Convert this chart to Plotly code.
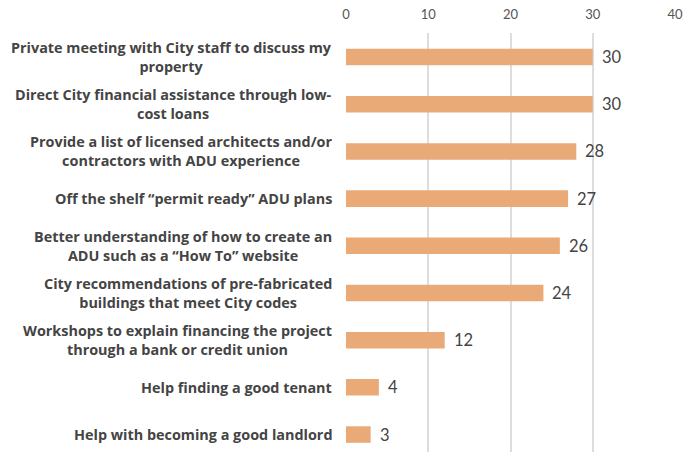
import plotly.graph_objects as go

# Survey responses: types of support homeowners would find helpful for building an ADU
categories = [
    "Private meeting with City staff to discuss my<br>property",
    "Direct City financial assistance through low-<br>cost loans",
    "Provide a list of licensed architects and/or<br>contractors with ADU experience",
    "Off the shelf \u201cpermit ready\u201d ADU plans",
    "Better understanding of how to create an<br>ADU such as a \u201cHow To\u201d website",
    "City recommendations of pre-fabricated<br>buildings that meet City codes",
    "Workshops to explain financing the project<br>through a bank or credit union",
    "Help finding a good tenant",
    "Help with becoming a good landlord",
]
responses = [30, 30, 28, 27, 26, 24, 12, 4, 3]
tick_values = [0, 10, 20, 30, 40]

BAR_COLOR = "#E9AA78"
TEXT_COLOR = "#444444"
FONT = "Lato"
LABEL_FONT = "Open Sans"

positions = list(range(len(categories)))

fig = go.Figure(
    go.Bar(
        x=responses,
        y=positions,
        orientation="h",
        marker=dict(color=BAR_COLOR, line=dict(width=0)),
        width=0.35,
        hoverinfo="skip",
    )
)

# Category labels: right-anchored blocks with centred lines
for pos, label in zip(positions, categories):
    fig.add_annotation(
        x=0, xref="paper", y=pos, yref="y",
        text=label, showarrow=False,
        xanchor="right", yanchor="middle", align="center",
        xshift=-12,
        font=dict(family=LABEL_FONT, size=14.4, color=TEXT_COLOR, weight="bold"),
    )

# Value labels just past the end of each bar
for pos, val in zip(positions, responses):
    fig.add_annotation(
        x=val, xref="x", y=pos, yref="y",
        text=str(val), showarrow=False,
        xanchor="left", yanchor="middle",
        xshift=7,
        font=dict(family=FONT, size=16.5, color=TEXT_COLOR),
    )

fig.update_layout(
    width=687, height=452,
    margin=dict(l=346, r=12, t=33, b=0),
    paper_bgcolor="white", plot_bgcolor="white",
    showlegend=False,
    font=dict(family=FONT, color=TEXT_COLOR),
    xaxis=dict(
        side="top", range=[0, 40], tickvals=tick_values,
        showgrid=True, gridcolor="#DDDDDD", gridwidth=1.5,
        zeroline=False, showline=False,
        ticks="", ticklabelstandoff=10,
        tickfont=dict(family=FONT, size=13, color="#555555"),
    ),
    yaxis=dict(
        range=[8.37, -0.51], showticklabels=False,
        showgrid=False, zeroline=False, showline=False, ticks="",
    ),
)

fig.write_html("out.html")
